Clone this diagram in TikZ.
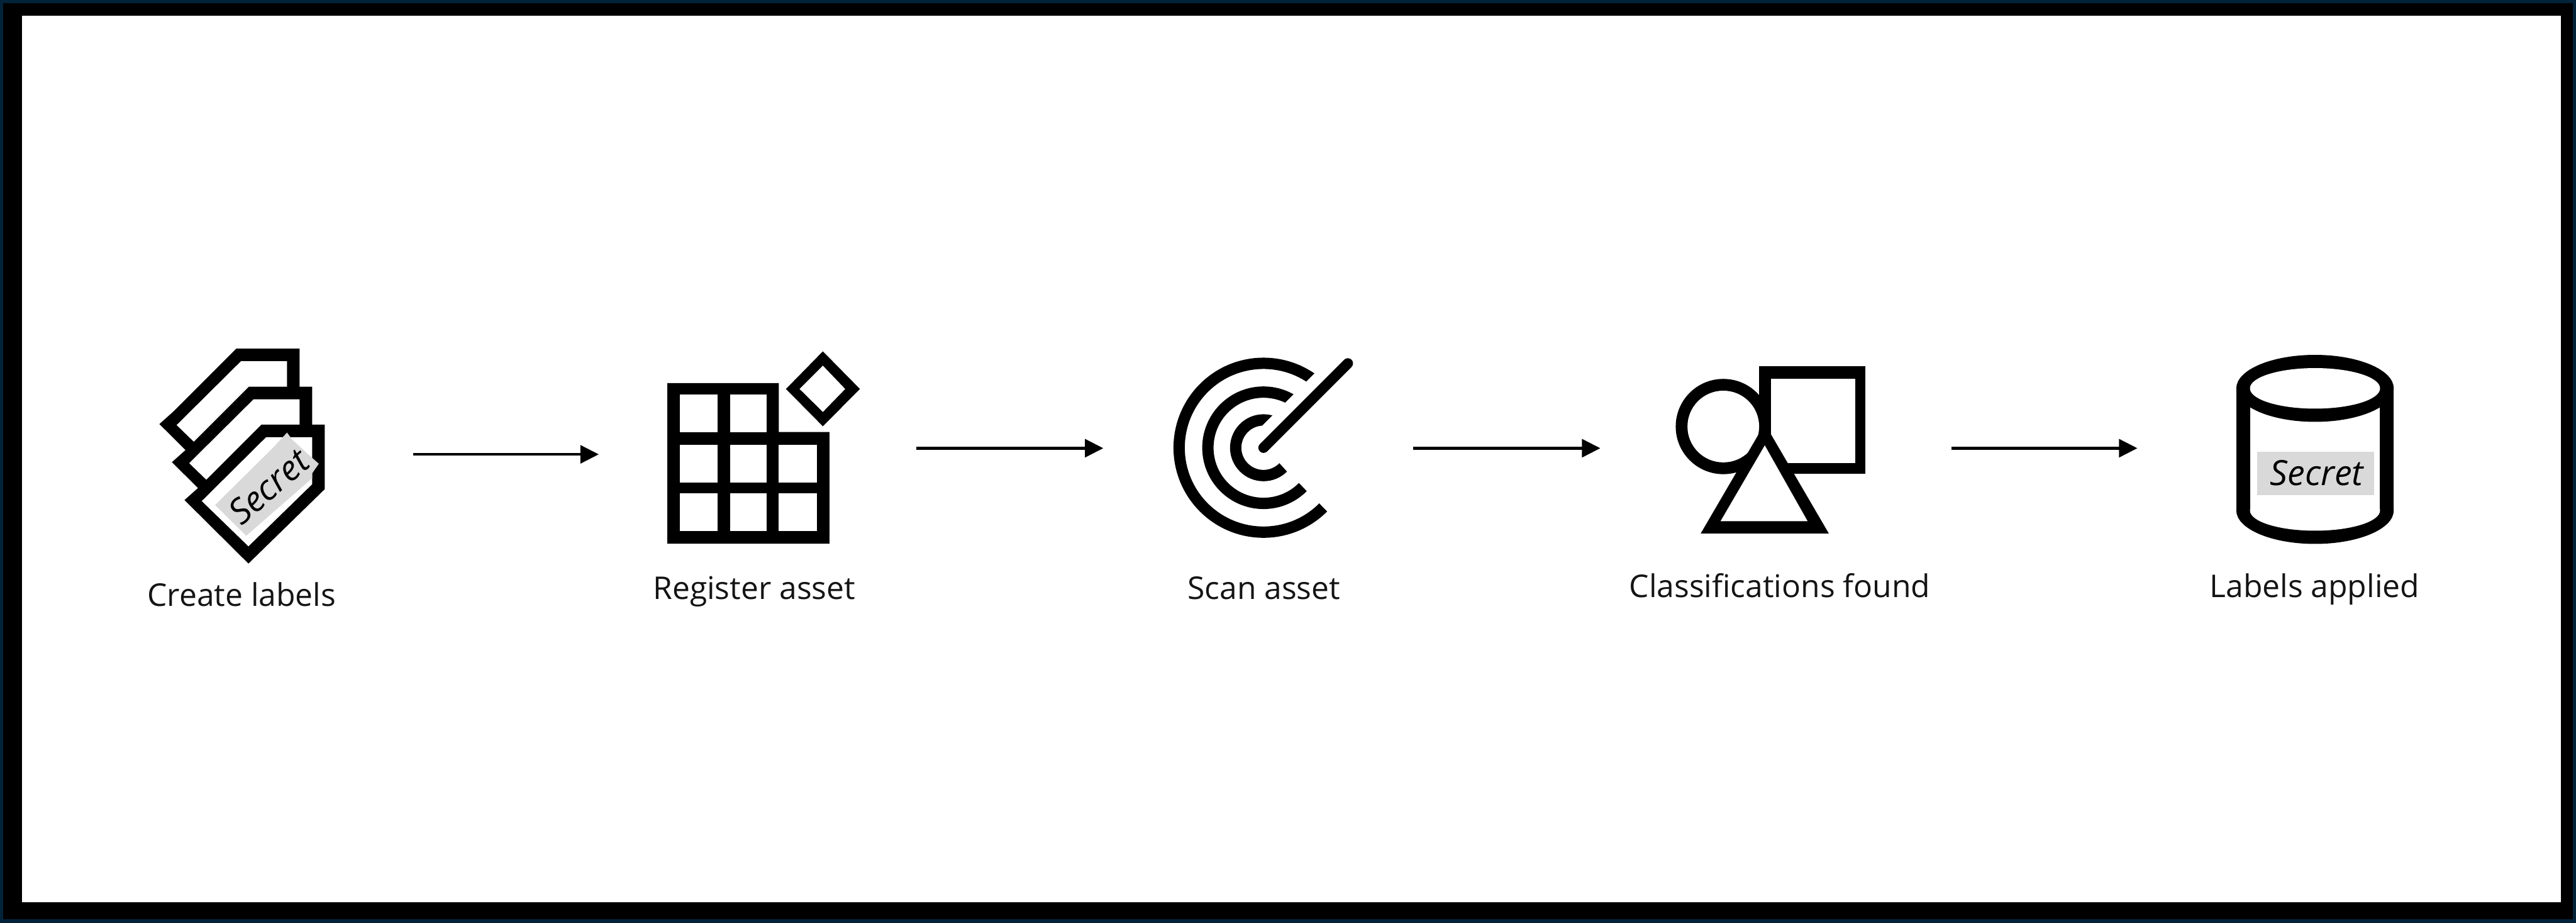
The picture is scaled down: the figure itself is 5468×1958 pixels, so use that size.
\documentclass[tikz,border=0pt]{standalone}
\usepackage{fontspec}
\setmainfont{Open Sans}
\usetikzlibrary{arrows.meta}
\definecolor{framenavy}{HTML}{02233A}
\definecolor{taggray}{HTML}{D9D9D9}
\tikzset{
  px/.style={x=0.01cm,y=-0.01cm},
  ink/.style={fill=black},
  paper/.style={fill=white},
  caption/.style={anchor=base,inner sep=0pt,text=black!92,font=\fontsize{18.9pt}{22pt}\selectfont},
  secret/.style={inner sep=0pt,text=black,font=\fontsize{21pt}{24pt}\selectfont\itshape},
  flow/.style={draw=black,line width=0.06cm,-{Triangle[length=0.39cm,width=0.38cm]}},
  ring/.style={draw=black,line width=0.24cm,line cap=butt}
}
\newcommand{\labeltag}[2]{%
  \begin{scope}[shift={(#1,#2)}]
    \fill[ink] (825,525) -- (1228,525) -- (1228,850) -- (742,1225) -- (335,905) -- (420,845) -- cycle;
    \fill[paper] (855,588) -- (1148,588) -- (1148,825) -- (742,1138) -- (445,910) -- cycle;
  \end{scope}}
\begin{document}
\begin{tikzpicture}[px]
\useasboundingbox (0,0) rectangle (5468,1958);
% frame
\fill[framenavy] (0,0) rectangle (5468,1958);
\fill[black] (7,7) rectangle (5461,1951);
\fill[white] (47,33) rectangle (5436,1914);

% icon 1: labels
\begin{scope}[shift={(280,680)},xscale=1/3,yscale=0.421]
  \labeltag{-160}{-383}
  \labeltag{-80}{-191}
  \labeltag{0}{0}
  \fill[taggray] (530,930) -- (900,640) -- (988,565) -- (1020,600) -- (1130,680) -- (1190,722) -- (1148,770) -- (1148,795) -- (728,1085) -- cycle;
\end{scope}
\node[secret,rotate=41] (tagtext) at (570,1032) {Secret};
\node[caption] (cap1) at (513,1286) {Create labels};

% icon 2: grid
\begin{scope}[shift={(1340,700)},xscale=1/3,yscale=0.3954]
  \fill[ink] (230,285) -- (940,285) -- (940,548) -- (1262,548) -- (1262,1147) -- (230,1147) -- cycle;
  \fill[paper] (308,345) rectangle (550,548);
  \fill[paper] (630,345) rectangle (863,548);
  \fill[paper] (308,617) rectangle (550,818);
  \fill[paper] (630,617) rectangle (863,818);
  \fill[paper] (938,617) rectangle (1182,818);
  \fill[paper] (308,878) rectangle (550,1080);
  \fill[paper] (630,878) rectangle (863,1080);
  \fill[paper] (938,878) rectangle (1182,1080);
  \fill[ink] (1220,115) -- (1456,317) -- (1220,517) -- (985,317) -- cycle;
  \fill[paper] (1220,192) -- (1362,317) -- (1220,440) -- (1072,317) -- cycle;
\end{scope}
\node[caption] (cap2) at (1601,1271) {Register asset};

% icon 3: radar
\coordinate (radar) at (2682,950);
\draw[ring] (radar) ++(45:1.79cm) arc[start angle=45,end angle=315,radius=1.79cm];
\draw[ring] (radar) ++(45:1.18cm) arc[start angle=45,end angle=315,radius=1.18cm];
\draw[ring] (radar) ++(45:0.59cm) arc[start angle=45,end angle=315,radius=0.59cm];
\draw[white,line width=0.70cm] (radar) -- ++(45:2.6cm);
\draw[black,line width=0.22cm,line cap=round] (radar) -- ++(45:2.53cm);
\node[caption] (cap3) at (2683,1271) {Scan asset};

% icon 4: shapes
\fill[ink] (3734,777) rectangle (3960,1005);
\fill[paper] (3759,803) rectangle (3938,982);
\fill[ink] (3658,905) circle[radius=1.01cm];
\fill[paper] (3658,905) circle[radius=0.76cm];
\fill[ink] (3746,899) -- (3882,1132) -- (3610,1132) -- cycle;
\fill[paper] (3746,945) -- (3837,1106) -- (3652,1106) -- cycle;
\node[caption] (cap4) at (3778,1268) {Classifications found};

% icon 5: cylinder
\fill[ink] (4914,1083) ellipse[x radius=1.67cm,y radius=0.71cm];
\fill[ink] (4747,824) rectangle (5081,1083);
\fill[paper] (4914,1083) ellipse[x radius=1.38cm,y radius=0.43cm];
\fill[paper] (4777,824) rectangle (5052,1083);
\fill[ink] (4914,824) ellipse[x radius=1.67cm,y radius=0.71cm];
\fill[paper] (4914,824) ellipse[x radius=1.38cm,y radius=0.43cm];
\fill[taggray] (4791,959) rectangle (5040,1051);
\node[secret,anchor=base] (cyltext) at (4918,1030) {Secret};
\node[caption] (cap5) at (4913,1268) {Labels applied};

% arrows
\coordinate (a1s) at (877,964);  \coordinate (a1e) at (1271,964);
\coordinate (a2s) at (1945,951); \coordinate (a2e) at (2342,951);
\coordinate (a3s) at (3000,951); \coordinate (a3e) at (3397,951);
\coordinate (a4s) at (4142,951); \coordinate (a4e) at (4537,951);
\draw[flow] (a1s) -- (a1e);
\draw[flow] (a2s) -- (a2e);
\draw[flow] (a3s) -- (a3e);
\draw[flow] (a4s) -- (a4e);
\end{tikzpicture}
\end{document}
